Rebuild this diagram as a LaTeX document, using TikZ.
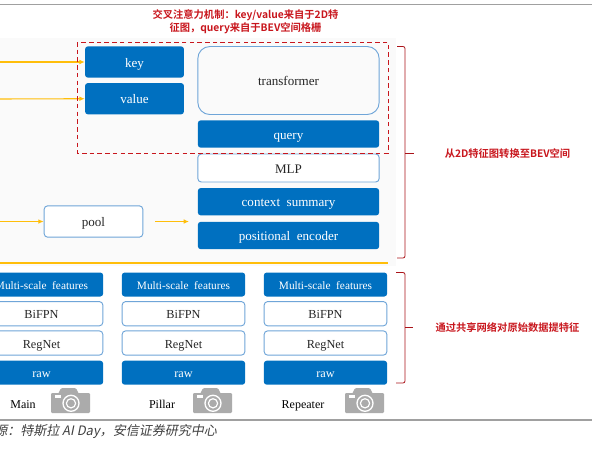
\documentclass[tikz,border=0pt]{standalone}
\usepackage{fontspec}
\setmainfont[WordSpace=2]{Liberation Serif}
\newfontfamily\cjkbold[BoldFont=Noto Sans CJK SC Bold]{Noto Sans CJK SC}
\newfontfamily\cjkslant[FakeSlant=0.2]{Noto Sans CJK SC}
\usetikzlibrary{arrows.meta, positioning, calc}
\definecolor{boxblue}{HTML}{0070C0}
\definecolor{edgeblue}{HTML}{6FA5D8}
\definecolor{flowgold}{HTML}{FFBE0A}
\definecolor{notered}{HTML}{C8161D}
\definecolor{panelgray}{HTML}{FAFAFA}
\definecolor{rulegray}{HTML}{A0A0A0}
\definecolor{iconGray}{HTML}{ABABAB}
\tikzset{
  solidbox/.style={draw=none, fill=boxblue, text=white, rounded corners=2.2pt, inner sep=0pt, text height=7.5pt, text depth=0pt},
  linebox/.style={draw=edgeblue, line width=0.7pt, fill=white, text=black!85, rounded corners=2.6pt, inner sep=0pt, text height=7.5pt, text depth=0pt},
  flow/.style={-{Latex[length=4pt,width=3.5pt]}, flowgold, line width=0.8pt},
  rednote/.style={text=notered, font=\cjkbold\bfseries\fontsize{7.7}{9.8}\selectfont, align=center},
  bracemark/.style={draw=notered!85!black, line width=0.6pt, rounded corners=1.5pt},
  upper/.style={font=\fontsize{9.8}{11}\selectfont},
  lower/.style={font=\fontsize{9}{11}\selectfont},
  camera/.pic={
    \fill[iconGray, rounded corners=0.8pt] (0,4) rectangle (39,24);
    \fill[iconGray, rounded corners=1pt] (10,-1) -- (25,-1) -- (28,5) -- (7,5) -- cycle;
    \fill[white] (4.3,6) rectangle (9.5,9.3);
    \draw[white, line width=1pt, fill=iconGray] (20,14.3) circle (8);
    \draw[white, line width=0.9pt] (20,14.3) circle (4.6);
  }
}
\begin{document}
\begin{tikzpicture}[x=0.75pt, y=-0.75pt, font=\fontsize{9.2}{11}\selectfont, >=Latex]
  \useasboundingbox (0,0) rectangle (592,455);
  % page rules and panel
  \fill[panelgray] (0,38) rectangle (396,266);
  \draw[rulegray, line width=1pt] (0,4.5) -- (592,4.5);
  \draw[rulegray, line width=1pt] (0,420) -- (592,420);
  \draw[draw=flowgold, line width=0.85pt] (0,263) -- (388,263);

  % upper block
  \node[solidbox, upper, minimum width=74.2pt, minimum height=23.5pt] (key) at (134.5,62) {key};
  \node[solidbox, upper, minimum width=74.2pt, minimum height=23.5pt] (value) at (134.5,98.7) {value};
  \node[linebox, upper, fill=panelgray, rounded corners=9pt, minimum width=136pt, minimum height=51pt] (transformer) at (288.5,80.5) {transformer};
  \node[solidbox, upper, minimum width=136pt, minimum height=20.5pt] (query) at (288.5,134) {query};
  \node[linebox, upper, minimum width=136pt, minimum height=21pt] (mlp) at (288.5,168) {MLP};
  \node[solidbox, upper, minimum width=136pt, minimum height=20.5pt] (context) at (288.5,201.7) {context summary};
  \node[solidbox, upper, minimum width=136pt, minimum height=20.5pt] (positional) at (288.5,235.5) {positional encoder};
  \node[linebox, upper, minimum width=74pt, minimum height=23.5pt] (pool) at (93.5,221.5) {pool};

  % connectors
  \coordinate (keyin) at (0,62);
  \coordinate (valuein) at (0,99);
  \coordinate (poolin) at (0,221.5);
  \coordinate (poolout) at (155,221.5);
  \coordinate (poolend) at (189,221.5);
  \draw[flow] (keyin) -- (key.west);
  \draw[flow] (valuein) -- (value.west);
  \draw[flow] (poolin) -- (pool.west);
  \draw[flow] (poolout) -- (poolend);

  % cross attention frame
  \draw[notered, line width=0.7pt, dash pattern=on 3.4pt off 2.4pt] (77,42) rectangle (388,153);
  \node[rednote] (crossnote) at (245.5,22) {交叉注意力机制^^^^ff1akey/value来自于2D特\\征图^^^^ff0cquery来自于BEV空间格栅};

  % backbone columns
  \foreach \i/\cx/\lab/\lx/\camx in {1/41.5/Main/23/51, 2/183.5/Pillar/162/193, 3/325.5/Repeater/303/345}{
    \node[solidbox, font=\fontsize{8.5}{11}\selectfont, minimum width=92.5pt, minimum height=18pt] (feat\i) at (\cx,284.5) {Multi-scale features};
    \node[linebox, minimum width=92pt, minimum height=18.2pt] (bifpn\i) at (\cx,313.7) {BiFPN};
    \node[linebox, minimum width=92pt, minimum height=18.2pt] (regnet\i) at (\cx,343) {RegNet};
    \node[solidbox, minimum width=92.5pt, minimum height=18pt] (raw\i) at (\cx,372.7) {raw};
    \node[lower, text height=7.5pt, text depth=0pt] (cam\i) at (\lx,403) {\lab};
    \pic at (\camx,389) {camera};
  }

  % braces
  \draw[bracemark] (397,46.5) -- (405,46.5) -- (405,258) -- (397,258);
  \draw[bracemark] (405,153) -- (414,153);
  \draw[bracemark] (396,272.5) -- (405,272.5) -- (405,383) -- (396,383);
  \draw[bracemark] (405,327.5) -- (413,327.5);
  \node[rednote] (bevnote) at (507.5,153.5) {从2D特征图转换至BEV空间};
  \node[rednote] (sharednote) at (507.5,327.5) {通过共享网络对原始数据提特征};

  % source line
  \node[anchor=west, inner sep=0pt, text=black!75, font=\cjkslant\fontsize{9.75}{11}\selectfont] (source) at (-6,431.5) {源^^^^ff1a特斯拉 AI Day^^^^ff0c安信证券研究中心};
\end{tikzpicture}
\end{document}
